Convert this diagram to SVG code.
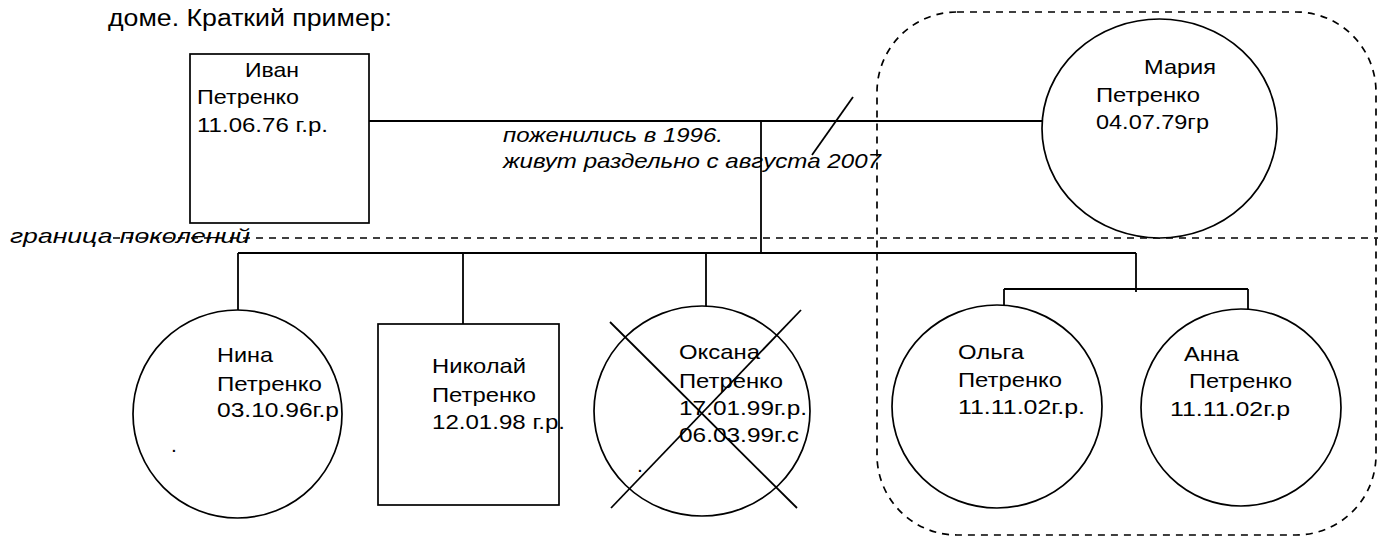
<svg xmlns="http://www.w3.org/2000/svg" width="1378" height="540" viewBox="0 0 1378 540">
  <style>
    text { font-family: "Liberation Sans", Arial, sans-serif; font-size: 21px; fill: #000; }
    .title { font-size: 23.5px; }
    .note { font-style: italic; }
    .shape { fill: #fff; stroke: #000; stroke-width: 1.7; }
    .link { fill: none; stroke: #000; stroke-width: 1.8; }
    .dash { fill: none; stroke: #000; stroke-width: 1.7; stroke-dasharray: 7 6; }
  </style>

  <rect width="1378" height="540" fill="#fff"/>

  <!-- heading line of the page -->
  <text class="title" x="108" y="26" textLength="284" lengthAdjust="spacingAndGlyphs">доме. Краткий пример:</text>

  <!-- household boundary and generation divider -->
  <g id="boundaries">
    <rect class="dash" x="877" y="12" width="499" height="523" rx="80" ry="80"/>
    <line class="dash" x1="113" y1="238" x2="1378" y2="238"/>
    <text class="note" x="10" y="243" textLength="240" lengthAdjust="spacingAndGlyphs">граница поколений</text>
  </g>

  <g id="connectors">
    <line class="link" x1="369" y1="121" x2="1047" y2="121"/>
    <line class="link" x1="812" y1="155" x2="853" y2="97"/>
    <line class="link" x1="761" y1="121" x2="761" y2="253"/>
    <line class="link" x1="238" y1="253" x2="1136" y2="253"/>
    <line class="link" x1="238" y1="253" x2="238" y2="310"/>
    <line class="link" x1="463" y1="253" x2="463" y2="324"/>
    <line class="link" x1="706" y1="253" x2="706" y2="306"/>
    <line class="link" x1="1136" y1="253" x2="1136" y2="292"/>
    <line class="link" x1="1004" y1="289" x2="1248" y2="289"/>
    <line class="link" x1="1004" y1="289" x2="1004" y2="306"/>
    <line class="link" x1="1248" y1="289" x2="1248" y2="310"/>
    <text class="note" x="503" y="142" textLength="220" lengthAdjust="spacingAndGlyphs">поженились в 1996.</text>
    <text class="note" x="503" y="168" textLength="378" lengthAdjust="spacingAndGlyphs">живут раздельно с августа 2007</text>
  </g>

  <g id="ivan">
    <rect class="shape" x="190" y="54" width="179" height="169"/>
    <text x="245" y="77" textLength="54" lengthAdjust="spacingAndGlyphs">Иван</text>
    <text x="197" y="104" textLength="102" lengthAdjust="spacingAndGlyphs">Петренко</text>
    <text x="197" y="132" textLength="131" lengthAdjust="spacingAndGlyphs">11.06.76 г.р.</text>
  </g>

  <g id="maria">
    <ellipse class="shape" cx="1159.5" cy="128.5" rx="117.5" ry="109.5"/>
    <text x="1144" y="74" textLength="72" lengthAdjust="spacingAndGlyphs">Мария</text>
    <text x="1096" y="102" textLength="104" lengthAdjust="spacingAndGlyphs">Петренко</text>
    <text x="1096" y="129" textLength="113" lengthAdjust="spacingAndGlyphs">04.07.79гр</text>
  </g>

  <g id="nina">
    <ellipse class="shape" cx="237.5" cy="414" rx="104.5" ry="104"/>
    <text x="217" y="362" textLength="56" lengthAdjust="spacingAndGlyphs">Нина</text>
    <text x="217" y="391" textLength="105" lengthAdjust="spacingAndGlyphs">Петренко</text>
    <text x="217" y="417" textLength="122" lengthAdjust="spacingAndGlyphs">03.10.96г.р</text>
    <text x="171" y="452">.</text>
  </g>

  <g id="nikolai">
    <rect class="shape" x="378" y="324" width="181" height="181"/>
    <text x="432" y="373" textLength="94" lengthAdjust="spacingAndGlyphs">Николай</text>
    <text x="432" y="402" textLength="104" lengthAdjust="spacingAndGlyphs">Петренко</text>
    <text x="432" y="429" textLength="133" lengthAdjust="spacingAndGlyphs">12.01.98 г.р.</text>
  </g>

  <g id="oksana">
    <ellipse class="shape" cx="702" cy="411" rx="108" ry="105"/>
    <text x="679" y="359" textLength="81" lengthAdjust="spacingAndGlyphs">Оксана</text>
    <text x="679" y="388" textLength="104" lengthAdjust="spacingAndGlyphs">Петренко</text>
    <text x="679" y="415" textLength="128" lengthAdjust="spacingAndGlyphs">17.01.99г.р.</text>
    <text x="679" y="442" textLength="120" lengthAdjust="spacingAndGlyphs">06.03.99г.с</text>
    <text x="637" y="472">.</text>
    <!-- deceased: crossed out -->
    <line class="link" x1="610" y1="322" x2="797" y2="508"/>
    <line class="link" x1="801" y1="310" x2="611" y2="508"/>
  </g>

  <g id="olga">
    <ellipse class="shape" cx="997" cy="406.5" rx="105" ry="101.5"/>
    <text x="958" y="359" textLength="66" lengthAdjust="spacingAndGlyphs">Ольга</text>
    <text x="958" y="387" textLength="104" lengthAdjust="spacingAndGlyphs">Петренко</text>
    <text x="958" y="414" textLength="127" lengthAdjust="spacingAndGlyphs">11.11.02г.р.</text>
  </g>

  <g id="anna">
    <ellipse class="shape" cx="1241" cy="407.5" rx="100" ry="98.5"/>
    <text x="1184" y="361" textLength="55" lengthAdjust="spacingAndGlyphs">Анна</text>
    <text x="1189" y="388" textLength="103" lengthAdjust="spacingAndGlyphs">Петренко</text>
    <text x="1170" y="416" textLength="120" lengthAdjust="spacingAndGlyphs">11.11.02г.р</text>
  </g>
</svg>
